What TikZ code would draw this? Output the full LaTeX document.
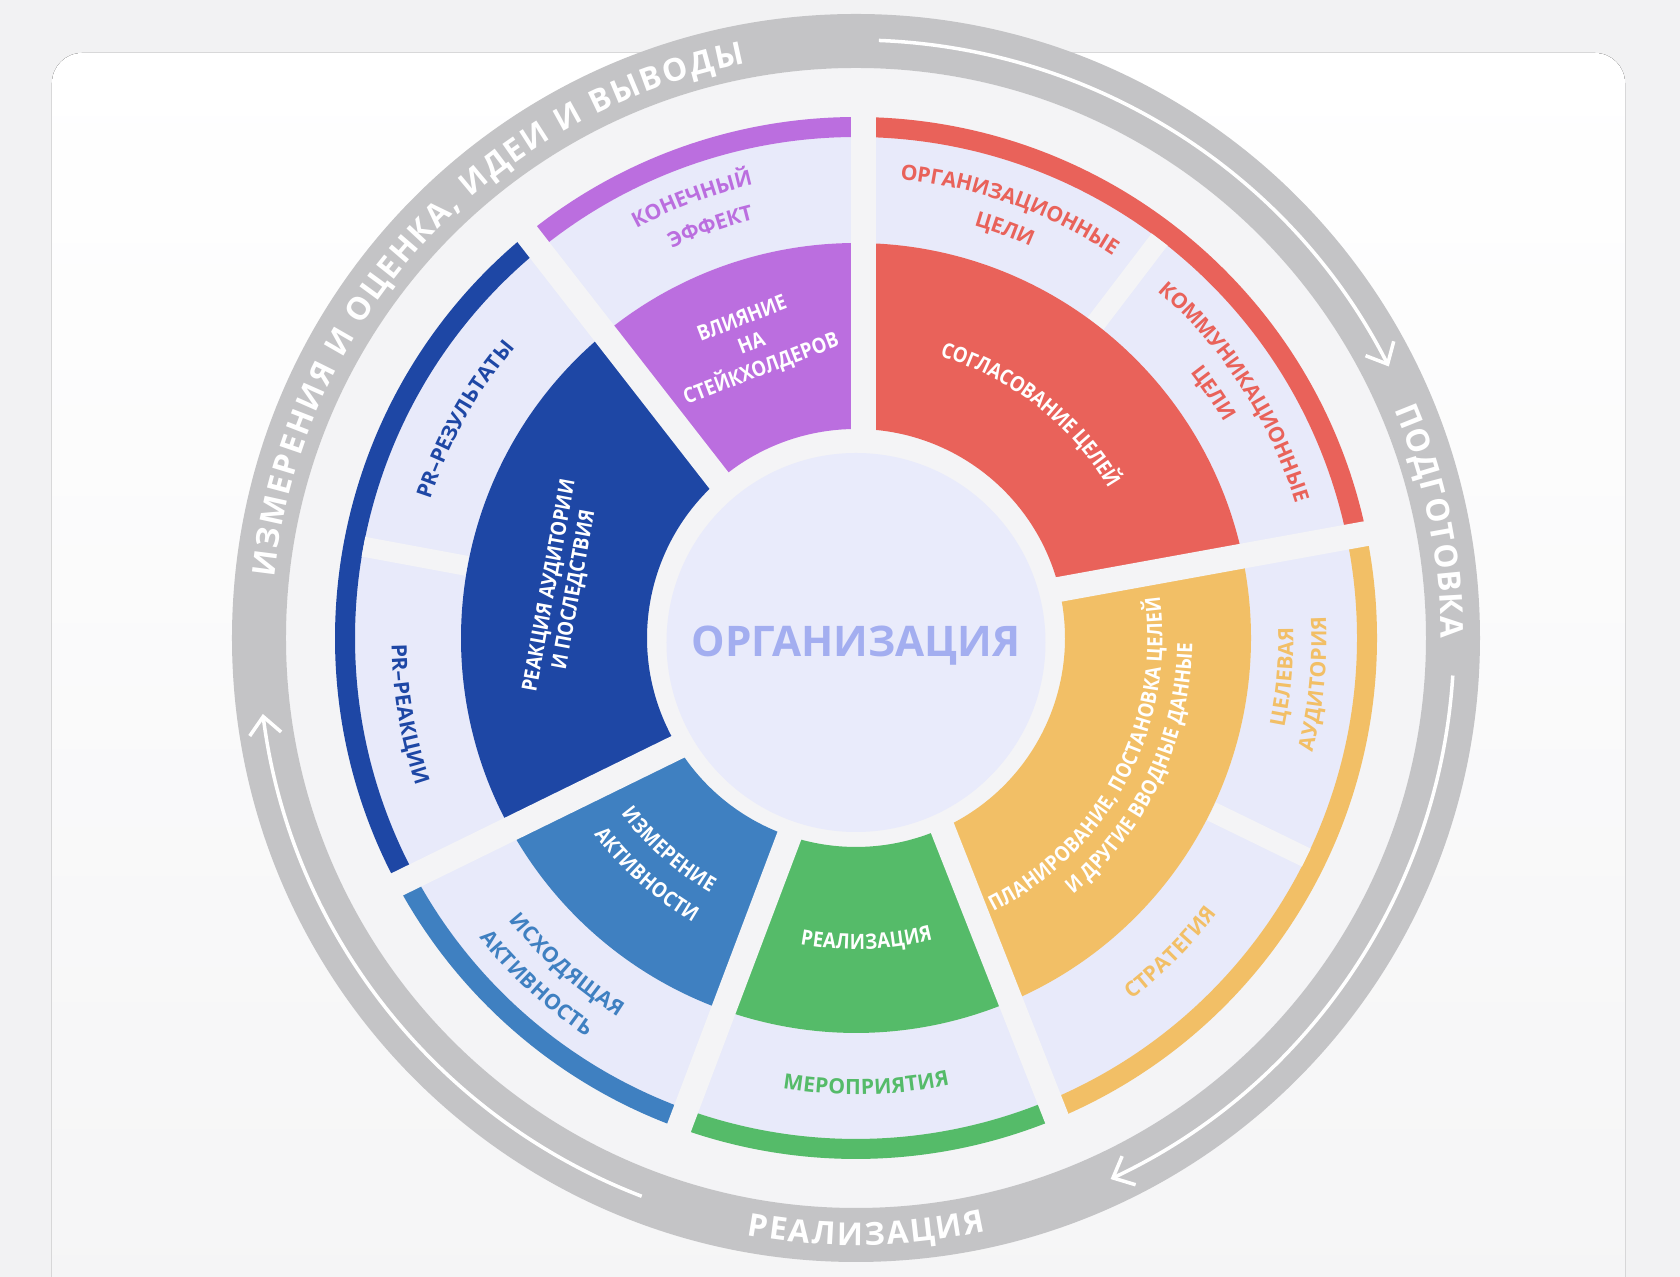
\documentclass[tikz,border=0pt]{standalone}
\usepackage{fontspec}
\setmainfont{Open Sans}
\newfontfamily\narrowfont{Open Sans}[FakeStretch=0.88]
\usetikzlibrary{decorations.text,arrows.meta}

\definecolor{pagebg}{HTML}{F2F2F3}
\definecolor{cardbot}{HTML}{F5F5F6}
\definecolor{wheelbg}{HTML}{F4F4F6}
\definecolor{ringgray}{HTML}{C4C4C6}
\definecolor{cell}{HTML}{E8EAFA}
\definecolor{centre}{HTML}{E9EBFB}
\definecolor{orgtext}{HTML}{A3AEF0}
\definecolor{cred}{HTML}{E9625A}
\definecolor{cpurple}{HTML}{BB6EDF}
\definecolor{cdblue}{HTML}{1E47A5}
\definecolor{clblue}{HTML}{3F80C1}
\definecolor{cgreen}{HTML}{55BB69}
\definecolor{corange}{HTML}{F2BF66}

\newcommand{\wlab}{\fontsize{6}{7}\selectfont\narrowfont\bfseries\color{white}}
\newcommand{\clab}[1]{\fontsize{6}{7}\selectfont\bfseries\color{#1}}
\newcommand{\ringfont}{\fontsize{9}{11}\selectfont\bfseries\color{white}}

% annular sector: colour, start, end, inner r, outer r
\newcommand{\annsec}[5]{\fill[#1] (#2:#4) arc[start angle=#2,end angle=#3,radius=#4]
  -- (#3:#5) arc[start angle=#3,end angle=#2,radius=#5] -- cycle;}
% text on an arc round the centre, tops outward / tops inward
\newcommand{\cwtext}[4]{\path[decorate,decoration={text along path,text align=center,
  raise=-2.1pt,text={|#3|#4}}] (#1+80:#2) arc[start angle=#1+80,end angle=#1-80,radius=#2];}
\newcommand{\ccwtext}[4]{\path[decorate,decoration={text along path,text align=center,
  raise=-2.1pt,text={|#3|#4}}] (#1-80:#2) arc[start angle=#1-80,end angle=#1+80,radius=#2];}
\newcommand{\ringtext}[3]{\path[decorate,decoration={text along path,text align={fit to path},
  raise=-3.2pt,text={|\ringfont|#3}}] (#1:5.96) arc[start angle=#1,end angle=#2,radius=5.96];}

\begin{document}
\begin{tikzpicture}[
  gapline/.style={wheelbg, line width=0.25cm},
  subgap/.style={wheelbg, line width=0.2cm},
  ringarrow/.style={white, line width=1pt, -{Straight Barb[length=5pt,width=9pt]}},
  wlabel/.style={text=white, font=\fontsize{6}{7.6}\selectfont\narrowfont\bfseries, align=center}]
  \useasboundingbox (-8.56,-6.39) rectangle (8.24,6.38);
  \fill[pagebg] (-8.56,-6.39) rectangle (8.24,6.38);
  \fill[top color=white, bottom color=cardbot, rounded corners=0.3cm] (-8.04,-6.8) rectangle (7.69,5.85);

  % outer ring
  \fill[wheelbg] (0,0) circle (5.70);
  \draw[ringgray, line width=0.54cm] (0,0) circle (5.97);
  \draw[ringarrow] (87.8:5.98) arc[start angle=87.8, end angle=27, radius=5.98];
  \draw[ringarrow] (-3.6:5.98) arc[start angle=-3.6, end angle=-64.8, radius=5.98];
  \draw[ringarrow] (-111:5.98) arc[start angle=-111, end angle=-172.7, radius=5.98];
  \ringtext{174}{101}{ИЗМЕРЕНИЯ И ОЦЕНКА, ИДЕИ И ВЫВОДЫ}
  \ringtext{23}{0}{ПОДГОТОВКА}
  \ringtext{-100.4}{-77.6}{РЕАЛИЗАЦИЯ}

  % wheel
  \fill[cell, even odd rule] (0,0) circle (5.01) circle (3.95);
  \foreach \c/\a/\b in {cred/12.3/88.7, cpurple/88.7/129.9, cdblue/129.9/208.8,
      clblue/208.8/250.3, cgreen/250.3/293.4, corange/293.4/372.3} {
    \annsec{\c}{\a}{\b}{2.09}{3.95}
    \annsec{\c}{\a}{\b}{5.01}{5.21}
  }
  \foreach \t/\d in {90/-0.075, 127.9/0.114, 206.1/0.194, 249.3/0.076, 291.5/0.107, 10.3/0.115}
    \draw[gapline, rotate=\t] (1.95,\d) -- (5.4,\d);
  \foreach \t in {52.7, 169.5, 334}
    \draw[subgap, rotate=\t] (3.955,0) -- (5.01,0);
  \fill[centre] (0,-0.045) circle (1.895);
  \node[text=orgtext, font=\fontsize{12}{14}\selectfont\bfseries, anchor=base] (org) at (0,-0.19) {ОРГАНИЗАЦИЯ};

  % inner labels
  \cwtext{52}{3.01}{\wlab}{СОГЛАСОВАНИЕ ЦЕЛЕЙ}
  \node[wlabel, rotate=21] (influence) at (-1.04,2.93) {ВЛИЯНИЕ\\НА\\СТЕЙКХОЛДЕРОВ};
  \node[wlabel, rotate=79.6, font=\fontsize{6}{7.1}\selectfont\narrowfont\bfseries] (reaction) at (-2.935,0.50)
    {РЕАКЦИЯ АУДИТОРИИ\\И ПОСЛЕДСТВИЯ};
  \ccwtext{228.5}{2.86}{\wlab}{ИЗМЕРЕНИЕ}
  \ccwtext{228.5}{3.20}{\wlab}{АКТИВНОСТИ}
  \ccwtext{-88}{3.04}{\wlab}{РЕАЛИЗАЦИЯ}
  \ccwtext{-27.8}{2.99}{\wlab}{ПЛАНИРОВАНИЕ, ПОСТАНОВКА ЦЕЛЕЙ}
  \ccwtext{-25.3}{3.29}{\wlab}{И ДРУГИЕ ВВОДНЫЕ ДАННЫЕ}

  % outer labels
  \cwtext{110.5}{4.72}{\clab{cpurple}}{КОНЕЧНЫЙ}
  \cwtext{109.5}{4.38}{\clab{cpurple}}{ЭФФЕКТ}
  \cwtext{70.3}{4.68}{\clab{cred}}{ОРГАНИЗАЦИОННЫЕ}
  \cwtext{70}{4.36}{\clab{cred}}{ЦЕЛИ}
  \cwtext{33}{4.67}{\clab{cred}}{КОММУНИКАЦИОННЫЕ}
  \cwtext{34.4}{4.34}{\clab{cred}}{ЦЕЛИ}
  \cwtext{150.8}{4.55}{\clab{cdblue}}{PR–РЕЗУЛЬТАТЫ}
  \ccwtext{189.7}{4.57}{\clab{cdblue}}{PR–РЕАКЦИИ}
  \ccwtext{228.5}{4.40}{\clab{clblue}}{ИСХОДЯЩАЯ}
  \ccwtext{227.2}{4.74}{\clab{clblue}}{АКТИВНОСТЬ}
  \ccwtext{271.3}{4.49}{\clab{cgreen}}{МЕРОПРИЯТИЯ}
  \ccwtext{-45}{4.47}{\clab{corange}}{СТРАТЕГИЯ}
  \ccwtext{-5.2}{4.30}{\clab{corange}}{ЦЕЛЕВАЯ}
  \ccwtext{-5.7}{4.63}{\clab{corange}}{АУДИТОРИЯ}
\end{tikzpicture}
\end{document}
